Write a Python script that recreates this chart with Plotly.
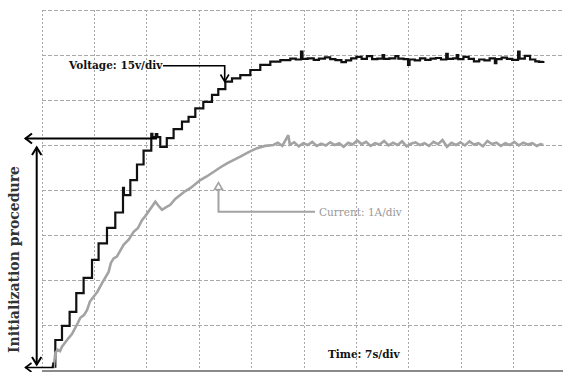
import plotly.graph_objects as go

# ---------------- data ----------------
# time in seconds (7 s/div), voltage in V (15 V/div), current in A (1 A/div)
volt_t = [1.30, 1.78, 2.67, 3.69, 4.58, 5.56, 6.68, 7.56, 8.68, 9.79, 10.82, 10.95,
          11.80, 12.69, 13.57, 14.60, 14.75, 15.20, 15.40, 15.80, 16.67, 17.58, 18.70,
          19.58, 20.48, 21.55, 22.71, 23.55, 24.49, 25.38, 26.49, 27.83, 29.16, 30.50,
          31.84, 33.17, 33.9, 34.6, 34.8, 35.5, 36.3, 37.0, 37.8, 38.5, 39.2, 40.0,
          40.6, 41.3, 42.0, 42.7, 43.4, 44.1, 44.8, 45.5, 45.7, 46.4, 47.2, 47.6,
          48.3, 48.9, 49.1, 49.8, 50.5, 51.2, 51.9, 52.6, 53.3, 54.0, 54.2, 54.9,
          55.4, 55.6, 56.3, 57.0, 57.7, 58.4, 59.1, 59.8, 60.5, 60.7, 61.4, 62.1,
          62.8, 63.6, 63.8, 64.5, 65.2, 65.9, 66.4, 66.97]
volt_v = [1.1, 10.0, 14.7, 19.4, 25.6, 30.7, 36.7, 42.2, 47.4, 52.5, 60.7, 58.3,
          63.3, 68.5, 73.1, 78.7, 77.6, 78.6, 77.6, 74.4, 77.3, 80.3, 82.8,
          84.4, 87.2, 89.4, 91.7, 93.6, 96.1, 97.2, 98.3, 100.0, 101.7, 102.8,
          103.3, 103.8, 103.5, 106.1, 103.7, 103.9, 103.4, 103.8, 104.2, 103.6, 103.3, 102.6,
          103.2, 103.9, 104.4, 103.7, 104.6, 103.6, 103.8, 105.0, 103.7, 103.9, 104.6, 103.8,
          103.6, 101.7, 103.5, 103.2, 103.9, 103.4, 103.8, 104.0, 103.5, 105.4, 103.7, 103.9,
          105.0, 103.6, 104.4, 103.7, 102.9, 103.5, 103.2, 103.9, 102.3, 103.6, 104.1, 103.7,
          103.4, 106.1, 103.8, 104.7, 103.5, 102.9, 102.7, 103.0]

curr_t = [1.55, 1.78, 2.1, 2.4, 2.67, 3.1, 3.55, 4.0, 4.45, 4.8, 5.12, 5.6, 6.01, 6.4,
          6.89, 7.4, 8.02, 8.5, 8.90, 9.2, 9.57, 10.0, 10.4, 10.90, 11.6, 12.24, 12.8,
          13.36, 13.8, 14.24, 14.7, 15.14, 15.5, 16.03, 16.6, 17.14, 17.8, 18.48, 19.1,
          19.81, 20.5, 21.15, 22.0, 22.92, 23.8, 24.71, 25.6, 26.49, 27.6, 28.72, 29.8,
          30.90, 31.5, 32.1, 32.9, 33.1, 33.7, 34.3, 34.9, 35.5, 36.1, 36.7, 37.3, 37.9,
          38.5, 39.1, 39.7, 40.3, 40.9, 41.5, 42.1, 42.7, 43.3, 43.9, 44.5, 45.1, 45.7,
          46.3, 46.9, 47.5, 48.1, 48.7, 49.3, 49.9, 50.5, 51.1, 51.7, 52.3, 52.9, 53.5,
          54.1, 54.7, 55.3, 55.9, 56.5, 57.1, 57.7, 58.3, 58.9, 59.5, 60.1, 60.7, 61.3,
          61.9, 62.5, 63.1, 63.7, 64.3, 64.9, 65.5, 66.1, 66.6, 66.97]
curr_a = [0.04, 0.38, 0.45, 0.42, 0.52, 0.62, 0.71, 0.80, 0.93, 1.05, 1.16, 1.22, 1.33, 1.52,
          1.63, 1.74, 1.93, 2.08, 2.18, 2.38, 2.48, 2.52, 2.65, 2.78, 2.90, 3.07, 3.15,
          3.33, 3.42, 3.52, 3.62, 3.74, 3.66, 3.56, 3.62, 3.67, 3.80, 3.89, 3.97,
          4.04, 4.14, 4.22, 4.30, 4.41, 4.50, 4.59, 4.66, 4.74, 4.84, 4.93, 4.98,
          5.00, 5.05, 4.98, 5.22, 5.01, 5.06, 4.97, 5.04, 5.00, 5.07, 4.98, 5.03, 4.99,
          5.06, 5.00, 5.04, 4.96, 5.05, 5.01, 5.10, 5.02, 5.07, 4.98, 5.04, 5.01, 5.09,
          4.99, 5.05, 5.00, 5.08, 4.97, 5.03, 5.06, 5.00, 5.04, 4.98, 5.07, 5.02, 5.11,
          4.96, 5.05, 5.00, 5.06, 4.99, 5.08, 5.01, 5.04, 4.97, 5.09, 5.02, 5.05, 4.98,
          5.04, 5.00, 5.07, 4.99, 5.05, 5.01, 5.04, 4.98, 5.02, 5.00]

labels = {
    "voltage": "Voltage: 15v/div",
    "current": "Current: 1A/div",
    "time": "Time: 7s/div",
    "init": "Initialization procedure",
}

# ---------------- figure ----------------
W, H = 563, 372
ML, MT, MB = 42, 10, 2
PW, PH = W - ML, H - MT - MB


def P(px, py):
    return (px - ML) / PW, (H - MB - py) / PH


def path(pts, close=False):
    s = ""
    for i, (px, py) in enumerate(pts):
        x, y = P(px, py)
        s += ("M" if i == 0 else "L") + f"{x:.5f},{y:.5f}"
    return s + ("Z" if close else "")


fig = go.Figure()
fig.add_trace(go.Scatter(x=curr_t, y=curr_a, yaxis="y2", mode="lines",
                         line=dict(color="#a3a3a3", width=2.6), hoverinfo="skip"))
fig.add_trace(go.Scatter(x=volt_t, y=volt_v, mode="lines", line_shape="hv",
                         line=dict(color="#111111", width=2.2), hoverinfo="skip"))

shapes = []
blk = dict(color="#000000", width=2)
thin = dict(color="#000000", width=1.6)
gry = dict(color="#a3a3a3", width=2)
gridl = dict(color="#a8a8a8", width=1, dash="2px,2px")
# left and top frame grid lines
shapes.append(dict(type="path", path=path([(42.5, 10), (42.5, 370)]), line=gridl))
shapes.append(dict(type="path", path=path([(42, 10.5), (563, 10.5)]), line=dict(color="#a8a8a8", width=1, dash="4px,2px")))
# initialization arrows
shapes.append(dict(type="path", path=path([(25, 138.5), (157, 138.5)]), line=blk))
shapes.append(dict(type="path", path=path([(32, 133.5), (25.5, 138.5), (32, 143.5)]), line=blk))
shapes.append(dict(type="path", path=path([(36.7, 147.5), (36.7, 364.5)]), line=blk))
shapes.append(dict(type="path", path=path([(32, 155), (36.7, 147.5), (41.4, 155)]), line=blk))
shapes.append(dict(type="path", path=path([(32, 357), (36.7, 364.5), (41.4, 357)]), line=blk))
shapes.append(dict(type="path", path=path([(25, 367.5), (53, 367.5), (53, 362.5)]), line=thin))
shapes.append(dict(type="path", path=path([(31.5, 363), (25.5, 367.5), (31.5, 372)]), line=thin))
# voltage label arrow
shapes.append(dict(type="path", path=path([(163, 65.7), (224.7, 65.7), (224.7, 81.5)]), line=thin))
shapes.append(dict(type="path", path=path([(220.5, 74.5), (224.7, 81.5), (228.9, 74.5)]), line=thin))
# current label arrow
shapes.append(dict(type="path", path=path([(315, 211.7), (218.5, 211.7), (218.5, 189.5)]), line=gry))
shapes.append(dict(type="path", path=path([(214.5, 189.5), (218.5, 182.5), (222.5, 189.5)], close=True),
                   line=dict(color="#a3a3a3", width=1.6), fillcolor="white"))
for s in shapes:
    s.update(xref="paper", yref="paper", layer="above")
fig.update_layout(shapes=shapes)

font = "DejaVu Serif"
ann = []
x, y = P(115, 65)
ann.append(dict(x=x, y=y, text="<b>" + labels["voltage"] + "</b>", font=dict(family=font, size=10.5, color="#111")))
x, y = P(360, 211.7)
ann.append(dict(x=x, y=y, text=labels["current"], font=dict(family=font, size=10.5, color="#999999")))
x, y = P(364, 354)
ann.append(dict(x=x, y=y, text="<b>" + labels["time"] + "</b>", font=dict(family=font, size=10.5, color="#111")))
x, y = P(14, 260)
ann.append(dict(x=x, y=y, text="<b>" + labels["init"] + "</b>", textangle=-90,
                font=dict(family=font, size=14, color="#333")))
for a in ann:
    a.update(xref="paper", yref="paper", showarrow=False, xanchor="center", yanchor="middle")
fig.update_layout(annotations=ann)

fig.update_layout(
    width=W, height=H,
    margin=dict(l=ML, r=0, t=MT, b=MB),
    paper_bgcolor="white", plot_bgcolor="white",
    showlegend=False,
    xaxis=dict(range=[0, PW / 52.4 * 7], dtick=7, tick0=0, showgrid=True,
               gridcolor="#a8a8a8", gridwidth=1, griddash="2px,2px",
               showticklabels=False, ticks="", zeroline=False,
               showline=True, linecolor="#8a8a8a", linewidth=2, mirror=False),
    yaxis=dict(range=[0, 120], dtick=15, tick0=0, showgrid=True,
               gridcolor="#a8a8a8", gridwidth=1, griddash="4px,2px",
               showticklabels=False, ticks="", zeroline=False, showline=False),
    yaxis2=dict(range=[0, 8], overlaying="y", showgrid=False, showticklabels=False,
                ticks="", zeroline=False, showline=False),
)

fig.write_html("out.html", config={"displayModeBar": False},
               post_script="document.body.style.margin='0';")
